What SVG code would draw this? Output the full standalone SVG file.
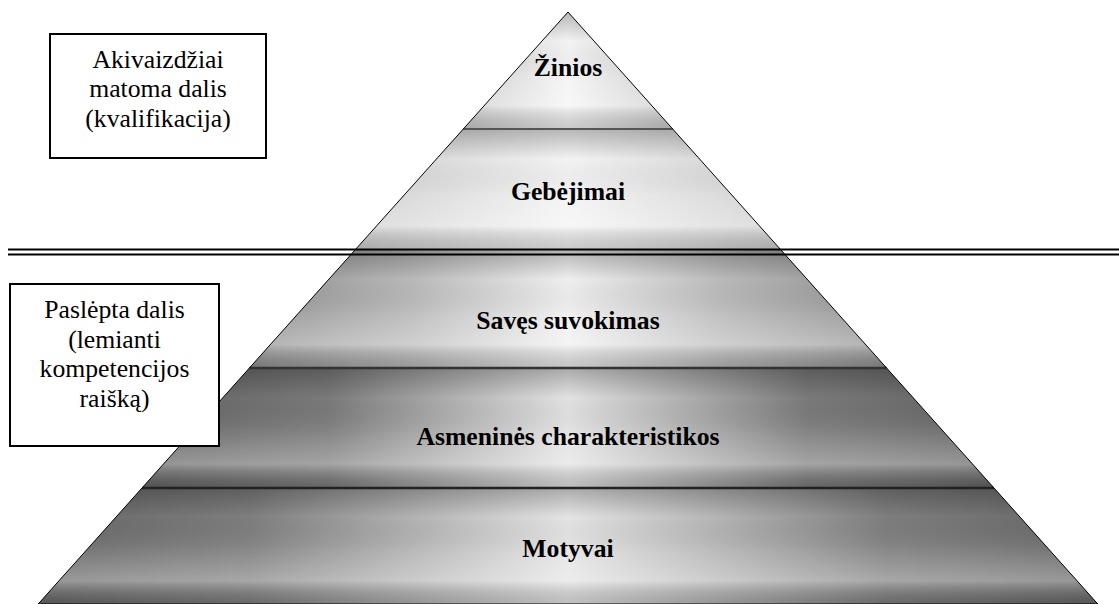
<svg xmlns="http://www.w3.org/2000/svg" width="1119" height="604" viewBox="0 0 1119 604">
<defs>
<style>
.lbl{font-family:'Liberation Serif','Times New Roman',serif;font-weight:bold;font-size:25.7px;text-anchor:middle;fill:#000}
.box{fill:#fff;stroke:#000;stroke-width:2}
.btx{font-family:'Liberation Serif','Times New Roman',serif;font-size:25.7px;text-anchor:middle;fill:#000}
.sep{stroke:#000;stroke-width:2.2;fill:none}
</style>
<linearGradient id="h1" x1="0" y1="0" x2="1" y2="0">
<stop offset="0" stop-color="#c9c9c9"/><stop offset="0.5" stop-color="#f4f4f4"/><stop offset="1" stop-color="#c9c9c9"/>
</linearGradient>
<linearGradient id="h2" x1="0" y1="0" x2="1" y2="0">
<stop offset="0" stop-color="#cdcdcd"/><stop offset="0.5" stop-color="#f3f3f3"/><stop offset="1" stop-color="#cdcdcd"/>
</linearGradient>
<linearGradient id="h3" x1="0" y1="0" x2="1" y2="0">
<stop offset="0" stop-color="#8f8f8f"/><stop offset="0.25" stop-color="#b8b8b8"/><stop offset="0.5" stop-color="#efefef"/><stop offset="0.75" stop-color="#b8b8b8"/><stop offset="1" stop-color="#8f8f8f"/>
</linearGradient>
<linearGradient id="h4" x1="0" y1="0" x2="1" y2="0">
<stop offset="0" stop-color="#626262"/><stop offset="0.22" stop-color="#7a7a7a"/><stop offset="0.5" stop-color="#e2e2e2"/><stop offset="0.78" stop-color="#7a7a7a"/><stop offset="1" stop-color="#626262"/>
</linearGradient>
<linearGradient id="h5" x1="0" y1="0" x2="1" y2="0">
<stop offset="0" stop-color="#666"/><stop offset="0.2" stop-color="#7e7e7e"/><stop offset="0.5" stop-color="#e4e4e4"/><stop offset="0.8" stop-color="#7e7e7e"/><stop offset="1" stop-color="#666"/>
</linearGradient>
<linearGradient id="vs" x1="0" y1="0" x2="0" y2="1">
<stop offset="0" stop-color="#000" stop-opacity="0.25"/>
<stop offset="0.25" stop-color="#000" stop-opacity="0"/>
<stop offset="0.55" stop-color="#fff" stop-opacity="0.1"/>
<stop offset="0.8" stop-color="#fff" stop-opacity="0.32"/>
<stop offset="1" stop-color="#000" stop-opacity="0.16"/>
</linearGradient>
</defs>
<rect width="1119" height="604" fill="#fff"/>

<g id="layer-zinios">
<polygon points="568,12 672.7,129 463.3,129" fill="url(#h1)"/>
<polygon points="568,12 672.7,129 463.3,129" fill="url(#vs)"/>
<text class="lbl" x="568" y="76">Žinios</text>
</g>
<g id="layer-gebejimai">
<polygon points="463.3,129 672.7,129 781,250 355,250" fill="url(#h2)"/>
<polygon points="463.3,129 672.7,129 781,250 355,250" fill="url(#vs)"/>
<text class="lbl" x="568" y="200">Gebėjimai</text>
</g>
<g id="layer-saves">
<polygon points="355,250 781,250 886.6,368 249.4,368" fill="url(#h3)"/>
<polygon points="355,250 781,250 886.6,368 249.4,368" fill="url(#vs)"/>
<text class="lbl" x="568" y="329">Savęs suvokimas</text>
</g>
<g id="layer-asmenines">
<polygon points="249.4,368 886.6,368 994,488 142,488" fill="url(#h4)"/>
<polygon points="249.4,368 886.6,368 994,488 142,488" fill="url(#vs)"/>
<text class="lbl" x="568" y="445">Asmeninės charakteristikos</text>
</g>
<g id="layer-motyvai">
<polygon points="142,488 994,488 1097.8,604 38.2,604" fill="url(#h5)"/>
<polygon points="142,488 994,488 1097.8,604 38.2,604" fill="url(#vs)"/>
<text class="lbl" x="568" y="557">Motyvai</text>
</g>

<g id="connectors">
<line x1="463.3" y1="129" x2="672.7" y2="129" stroke="#555" stroke-width="2"/>
<line x1="249.4" y1="368" x2="886.6" y2="368" stroke="#333" stroke-width="2.4"/>
<line x1="142" y1="488" x2="994" y2="488" stroke="#222" stroke-width="2.4"/>
<polygon points="568,12 1097.8,604 38.2,604" fill="none" stroke="#000" stroke-width="1"/>
<line class="sep" x1="8" y1="249.5" x2="1119" y2="249.5"/>
<line class="sep" x1="8" y1="254.5" x2="1119" y2="254.5"/>
</g>

<g id="box-visible">
<rect class="box" x="50" y="34" width="216" height="124"/>
<text class="btx" x="158" y="67.5">Akivaizdžiai</text>
<text class="btx" x="158" y="97">matoma dalis</text>
<text class="btx" x="158" y="126.5">(kvalifikacija)</text>
</g>
<g id="box-hidden">
<rect class="box" x="10" y="284" width="209" height="162"/>
<text class="btx" x="114.5" y="318">Paslėpta dalis</text>
<text class="btx" x="114.5" y="347.5">(lemianti</text>
<text class="btx" x="114.5" y="377">kompetencijos</text>
<text class="btx" x="114.5" y="406.5">raišką)</text>
</g>
</svg>
